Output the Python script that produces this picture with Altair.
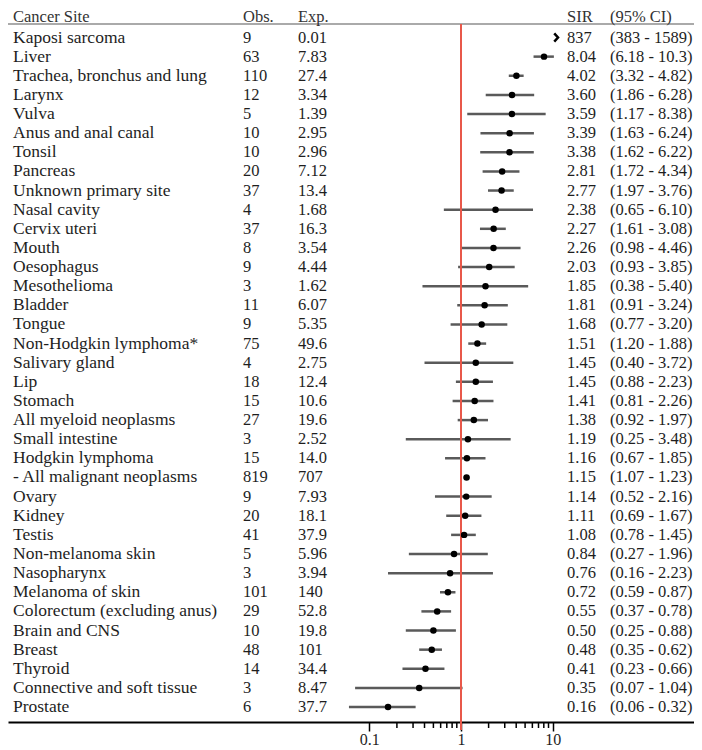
import altair as alt
import pandas as pd

# ---------------- data ----------------
sites = ["Kaposi sarcoma", "Liver", "Trachea, bronchus and lung", "Larynx", "Vulva",
         "Anus and anal canal", "Tonsil", "Pancreas", "Unknown primary site", "Nasal cavity",
         "Cervix uteri", "Mouth", "Oesophagus", "Mesothelioma", "Bladder", "Tongue",
         "Non-Hodgkin lymphoma*", "Salivary gland", "Lip", "Stomach", "All myeloid neoplasms",
         "Small intestine", "Hodgkin lymphoma", "- All malignant neoplasms", "Ovary", "Kidney",
         "Testis", "Non-melanoma skin", "Nasopharynx", "Melanoma of skin",
         "Colorectum (excluding anus)", "Brain and CNS", "Breast", "Thyroid",
         "Connective and soft tissue", "Prostate"]
obs = ["9", "63", "110", "12", "5", "10", "10", "20", "37", "4", "37", "8", "9", "3", "11", "9",
       "75", "4", "18", "15", "27", "3", "15", "819", "9", "20", "41", "5", "3", "101", "29", "10",
       "48", "14", "3", "6"]
expected = ["0.01", "7.83", "27.4", "3.34", "1.39", "2.95", "2.96", "7.12", "13.4", "1.68", "16.3",
            "3.54", "4.44", "1.62", "6.07", "5.35", "49.6", "2.75", "12.4", "10.6", "19.6", "2.52",
            "14.0", "707", "7.93", "18.1", "37.9", "5.96", "3.94", "140", "52.8", "19.8", "101",
            "34.4", "8.47", "37.7"]
sir = ["837", "8.04", "4.02", "3.60", "3.59", "3.39", "3.38", "2.81", "2.77", "2.38", "2.27", "2.26",
       "2.03", "1.85", "1.81", "1.68", "1.51", "1.45", "1.45", "1.41", "1.38", "1.19", "1.16", "1.15",
       "1.14", "1.11", "1.08", "0.84", "0.76", "0.72", "0.55", "0.50", "0.48", "0.41", "0.35", "0.16"]
ci_low = ["383", "6.18", "3.32", "1.86", "1.17", "1.63", "1.62", "1.72", "1.97", "0.65", "1.61",
          "0.98", "0.93", "0.38", "0.91", "0.77", "1.20", "0.40", "0.88", "0.81", "0.92", "0.25",
          "0.67", "1.07", "0.52", "0.69", "0.78", "0.27", "0.16", "0.59", "0.37", "0.25", "0.35",
          "0.23", "0.07", "0.06"]
ci_high = ["1589", "10.3", "4.82", "6.28", "8.38", "6.24", "6.22", "4.34", "3.76", "6.10", "3.08",
           "4.46", "3.85", "5.40", "3.24", "3.20", "1.88", "3.72", "2.23", "2.26", "1.97", "3.48",
           "1.85", "1.23", "2.16", "1.67", "1.45", "1.96", "2.23", "0.87", "0.78", "0.88", "0.62",
           "0.66", "1.04", "0.32"]
header_labels = ["Cancer Site", "Obs.", "Exp.", "SIR", "(95% CI)"]
axis_ticks = [0.1, 1, 10]
minor_ticks = [0.2, 0.3, 0.4, 0.5, 0.6, 0.7, 0.8, 0.9, 2, 3, 4, 5, 6, 7, 8, 9]
ref_value = [1]
cutoff = 10.9  # values beyond the axis are shown with an arrow

df = pd.DataFrame({
    "idx": list(range(len(sites))),
    "site": sites, "obs": obs, "exp": expected, "sir_s": sir,
    "ci_s": [f"({l} - {h})" for l, h in zip(ci_low, ci_high)],
    "sir": [float(s) for s in sir],
    "lo": [float(s) for s in ci_low],
    "hi": [min(float(s), cutoff) for s in ci_high],
})
df["arrow_x"] = cutoff
one = pd.DataFrame({"k": [0]})

# ---------------- layout ----------------
W, H = 686, 714
FONT = "Liberation Serif"
FS_NAME = 17.5
FS_NUM = 16.5
FS_HEAD = 16.5
TXT = "#1e1e1e"
px_one = 453.0          # pixel of SIR = 1
decade = 91.7           # pixels per decade
x_dom = [10 ** (-px_one / decade), 10 ** ((W - px_one) / decade)]
row0, row_step = 29.5, 19.13
y_d0 = -row0 / row_step
y_dom = [y_d0, y_d0 + H / row_step]

xs = alt.Scale(type="log", domain=x_dom, nice=False)
ys = alt.Scale(domain=y_dom, reverse=True, nice=False, zero=False)
XAX = alt.Axis(values=axis_ticks, grid=False, domainColor="black", domainWidth=2,
               tickColor="black", tickWidth=1.5, tickSize=9, labelFont=FONT,
               labelFontSize=16, labelColor=TXT, labelPadding=0, labelFlush=False,
               labelOverlap=False, title=None,
               labelExpr="datum.value < 1 ? '0.1' : (datum.value < 5 ? '1' : '10')")
Y = alt.Y("idx:Q", scale=ys, axis=None)

base = alt.Chart(df)
inrange = alt.datum.sir < cutoff
outrange = alt.datum.sir >= cutoff

header_y = 8.5
header_line_y = 16
col_x = [5, 235, 290, 559, 602]
col_fs = [FS_NAME, FS_NUM, FS_NUM, FS_NUM, FS_NUM]

headers = [alt.Chart(one).mark_text(align="left", baseline="middle", font=FONT,
                                    fontSize=FS_HEAD, color="#333333").encode(
    x=alt.value(xp), y=alt.value(header_y), text=alt.value(lab))
    for lab, xp in zip(header_labels, col_x)]

header_rule = alt.Chart(one).mark_rule(color="#aaaaaa", strokeWidth=2).encode(
    x=alt.value(0), x2=alt.value(W), y=alt.value(header_line_y))

ref_rule = alt.Chart(pd.DataFrame({"v": ref_value})).mark_rule(
    color="#E8584A", strokeWidth=2).encode(
    x=alt.X("v:Q", scale=xs, axis=XAX), y=alt.value(header_line_y), y2=alt.value(H + 8))

minor = alt.Chart(pd.DataFrame({"v": minor_ticks})).mark_rule(
    color="black", strokeWidth=1.5).encode(
    x=alt.X("v:Q", scale=xs, axis=XAX), y=alt.value(H), y2=alt.value(H + 6))

ci = base.transform_filter(inrange).mark_rule(color="#5a5a5a", strokeWidth=2.5).encode(
    x=alt.X("lo:Q", scale=xs, axis=XAX), x2="hi:Q", y=Y)

pts = base.transform_filter(inrange).mark_point(filled=True, color="black", size=42,
                                                 shape="circle", opacity=1).encode(
    x=alt.X("sir:Q", scale=xs, axis=XAX), y=Y)

arrow = base.transform_filter(outrange).mark_point(
    shape="M -0.45 -1 L 0.45 0 L -0.45 1", filled=False, color="black", strokeWidth=2.5,
    size=70, opacity=1).encode(x=alt.X("arrow_x:Q", scale=xs, axis=XAX), y=Y)

def col(field, xpos, fs):
    return base.mark_text(align="left", baseline="middle", font=FONT, fontSize=fs,
                          color=TXT).encode(x=alt.value(xpos), y=Y, text=f"{field}:N")

texts = [col(f, xp, fs) for f, xp, fs in
         zip(["site", "obs", "exp", "sir_s", "ci_s"], col_x, col_fs)]

chart = alt.layer(header_rule, *headers, ci, ref_rule, minor, pts, arrow, *texts).properties(
    width=W, height=H,
    autosize=alt.AutoSizeParams(type="none"),
    padding={"left": 0, "top": 0, "right": 0, "bottom": 28},
).configure_view(stroke=None)

chart.save("out.html", embed_options={"renderer": "svg", "actions": False})
